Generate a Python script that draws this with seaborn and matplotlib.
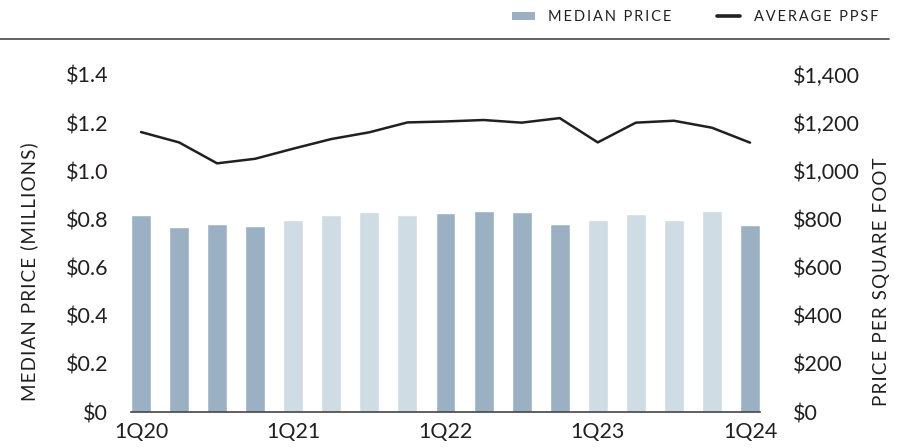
import pandas as pd
import seaborn as sns
import matplotlib.pyplot as plt
from matplotlib.lines import Line2D
from matplotlib.patches import Patch

quarters = ["1Q20", "2Q20", "3Q20", "4Q20",
            "1Q21", "2Q21", "3Q21", "4Q21",
            "1Q22", "2Q22", "3Q22", "4Q22",
            "1Q23", "2Q23", "3Q23", "4Q23",
            "1Q24"]
median_price = [0.818, 0.769, 0.781, 0.773,
                0.798, 0.818, 0.831, 0.818,
                0.827, 0.835, 0.831, 0.781,
                0.798, 0.823, 0.798, 0.835,
                0.777]
average_ppsf = [1163, 1120, 1033, 1052,
                1094, 1134, 1162, 1203,
                1207, 1213, 1202, 1221,
                1120, 1202, 1210, 1181,
                1119]
year = [q[-2:] for q in quarters]
tick_labels = ["1Q20", "1Q21", "1Q22", "1Q23", "1Q24"]

DARK = "#9bb1c3"
LIGHT = "#cfdce4"
LINE = "#231f20"
TEXT = "#231f20"


def spaced(s, sep):
    # fake letter spacing
    return sep.join(s)


sns.set_theme(style="white")
plt.rcParams["font.family"] = ["Lato", "DejaVu Sans"]

df = pd.DataFrame({"quarter": quarters, "median": median_price,
                   "ppsf": average_ppsf, "year": year})
palette = {"20": DARK, "21": LIGHT, "22": DARK, "23": LIGHT, "24": DARK}

fig = plt.figure(figsize=(9.07, 4.48), dpi=100)
ax = fig.add_axes([131 / 907, 36 / 448, 629 / 907, 337 / 448])

sns.barplot(data=df, x="quarter", y="median", hue="year", palette=palette,
            dodge=False, legend=False, width=0.525, saturation=1, ax=ax)
ax.set_xlim(-0.2625, 16.2625)
ax.set_ylim(0, 1.4)
ax.set_yticks([0, 0.2, 0.4, 0.6, 0.8, 1.0, 1.2, 1.4])
ax.set_yticklabels(["$0", "$0.2", "$0.4", "$0.6", "$0.8", "$1.0", "$1.2", "$1.4"])
ax.set_xticks([quarters.index(t) for t in tick_labels])
ax.set_xticklabels(tick_labels)
ax.tick_params(axis="both", length=0, labelsize=15.5, colors=TEXT)
ax.tick_params(axis="y", pad=16.5)
ax.tick_params(axis="x", pad=7)
ax.set_xlabel("")
ax.set_ylabel(spaced("MEDIAN PRICE (MILLIONS)", "\u200a"), fontsize=13.5, color=TEXT)
ax.yaxis.set_label_coords(-0.148, 0.415)
for s in ["top", "left", "right"]:
    ax.spines[s].set_visible(False)
ax.spines["bottom"].set_color("#444444")
ax.spines["bottom"].set_linewidth(1.2)

ax2 = ax.twinx()
sns.lineplot(x=list(range(len(quarters))), y=average_ppsf, color=LINE,
             linewidth=1.8, ax=ax2)
ax2.set_ylim(0, 1400)
ax2.set_yticks([0, 200, 400, 600, 800, 1000, 1200, 1400])
ax2.set_yticklabels(["$0", "$200", "$400", "$600", "$800", "$1,000", "$1,200", "$1,400"])
ax2.tick_params(axis="y", length=0, labelsize=15.5, colors=TEXT, pad=24)
ax2.set_ylabel(spaced("PRICE PER SQUARE FOOT", "\u200a"), fontsize=13.5, color=TEXT)
ax2.yaxis.set_label_coords(1.18, 0.386)
for s in ["top", "left", "right", "bottom"]:
    ax2.spines[s].set_visible(False)

# header rule and legend
fig.add_artist(Line2D([0, 889 / 907], [1 - 39.5 / 448, 1 - 39.5 / 448],
                      color="#555555", linewidth=1.3, transform=fig.transFigure))
handles = [Patch(facecolor=DARK, edgecolor="none", label=spaced("MEDIAN PRICE", "\u2009")),
           Line2D([0], [0], color=LINE, linewidth=2.6,
                  label=spaced("AVERAGE PPSF", "\u2009"))]
fig.legend(handles=handles, loc="center right", bbox_to_anchor=(891 / 907, 1 - 17 / 448),
           ncol=2, frameon=False, fontsize=10.5, handlelength=1.6, handleheight=0.5,
           columnspacing=3.1, handletextpad=0.9, labelcolor=TEXT)

fig.savefig("out.png", dpi=100)
